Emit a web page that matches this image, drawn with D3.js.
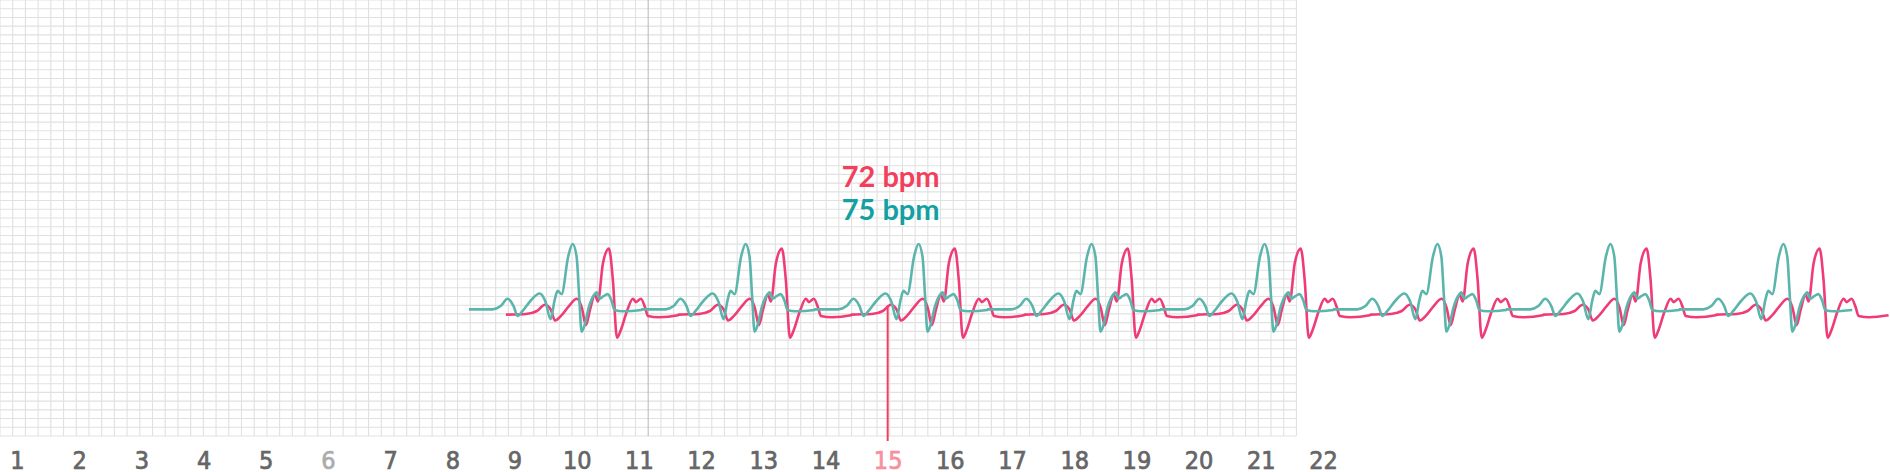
<!DOCTYPE html>
<html>
<head>
<meta charset="utf-8">
<script src="https://cdn.jsdelivr.net/npm/d3@7"></script>
<style>
  html, body { margin: 0; padding: 0; background: #fff; }
  svg { display: block; }
</style>
</head>
<body>
<svg id="chart" width="1890" height="472"></svg>
<script>
// axis labels (seconds)
var tickLabels = [1,2,3,4,5,6,7,8,9,10,11,12,13,14,15,16,17,18,19,20,21,22];
var mutedTick = 6;
var cursorTick = 15;

// R-peak times of each trace (s)
var tealBeats = [9.934, 12.715, 15.496, 18.277, 21.058, 23.839, 26.620, 29.401];
var redBeats  = [10.518, 13.299, 16.080, 18.861, 21.642, 24.423, 27.204, 29.985];

// one beat of each trace, [offset from R peak (s), value]
var tealBeat = [
  [-1.667, 0.01], [-1.286, 0.01], [-1.158, 0.06], [-1.045, 0.17], [-0.949, 0.06],
  [-0.884, -0.09], [-0.804, -0.015], [-0.675, 0.14], [-0.531, 0.25], [-0.434, 0.12],
  [-0.354, -0.14], [-0.289, 0.15], [-0.241, 0.29], [-0.177, 0.24], [-0.071, 0.81],
  [0, 1.0], [0.064, 0.81], [0.106, 0.20], [0.145, -0.33], [0.193, -0.23],
  [0.257, 0.03], [0.354, 0.24], [0.386, 0.27], [0.434, 0.17], [0.498, 0.21],
  [0.563, 0.24], [0.627, 0.14], [0.675, 0.0], [0.804, -0.02], [1.109, 0.0]
];
var redBeat = [
  [-1.656, -0.07], [-1.334, -0.06], [-1.158, -0.015], [-1.029, 0.08], [-0.932, 0.0],
  [-0.868, -0.16], [-0.756, -0.075], [-0.643, 0.06], [-0.514, 0.17], [-0.434, 0.03],
  [-0.370, -0.23], [-0.305, 0.0], [-0.225, 0.23], [-0.177, 0.13], [-0.096, 0.71],
  [0, 0.93], [0.064, 0.45], [0.129, -0.42], [0.193, -0.30], [0.289, -0.02],
  [0.386, 0.17], [0.434, 0.12], [0.514, 0.17], [0.579, 0.045], [0.627, -0.09],
  [0.804, -0.11], [1.109, -0.08]
];

// heart rate readouts at the cursor
var readouts = [
  { text: "72 bpm", color: "#f2405c" },
  { text: "75 bpm", color: "#12a0a2" }
];
var cursorLevel = 0.05;

var svg = d3.select("#chart");

var x = d3.scaleLinear().domain([1, 22]).range([17, 1323]);
var y = d3.scaleLinear().domain([0, 1]).range([310, 244]);

// paper grid
var gridW = 1296.4, gridH = 436, cols = 102, rows = 50;
var gx = d3.scaleLinear().domain([0, cols]).range([0, gridW]);
var gy = d3.scaleLinear().domain([0, rows]).range([0, gridH]);

var grid = svg.append("g").attr("class", "grid");
grid.selectAll("line.h")
  .data(d3.range(rows + 1))
  .enter().append("line")
  .attr("class", "h")
  .attr("x1", 0).attr("x2", gridW)
  .attr("y1", function(d) { return gy(d); })
  .attr("y2", function(d) { return gy(d); })
  .attr("stroke", "#e1e1e1")
  .attr("stroke-width", 1.1);

grid.selectAll("line.v")
  .data(d3.range(cols + 1))
  .enter().append("line")
  .attr("class", "v")
  .attr("y1", 0).attr("y2", gridH)
  .attr("x1", function(d) { return gx(d); })
  .attr("x2", function(d) { return gx(d); })
  .attr("stroke", function(d) { return d === cols / 2 ? "#bcbcbc" : "#e1e1e1"; })
  .attr("stroke-width", 1.1);

// cursor line
svg.append("line")
  .attr("x1", x(cursorTick)).attr("x2", x(cursorTick))
  .attr("y1", y(cursorLevel)).attr("y2", 441)
  .attr("stroke", "#f2405c")
  .attr("stroke-width", 2);

// build trace points from beats
var buildTrace = function(beats, shape) {
  var pts = [];
  beats.forEach(function(t) {
    shape.forEach(function(p) { pts.push([t + p[0], p[1]]); });
  });
  return pts;
};

var line = d3.line()
  .x(function(d) { return x(d[0]); })
  .y(function(d) { return y(d[1]); })
  .curve(d3.curveMonotoneX);

svg.append("path")
  .datum(buildTrace(redBeats, redBeat))
  .attr("d", line)
  .attr("fill", "none")
  .attr("stroke", "#f03c76")
  .attr("stroke-width", 2.6)
  .attr("stroke-linejoin", "round");

svg.append("path")
  .datum(buildTrace(tealBeats, tealBeat))
  .attr("d", line)
  .attr("fill", "none")
  .attr("stroke", "#5bb5ac")
  .attr("stroke-width", 2.6)
  .attr("stroke-linejoin", "round");

// readout text
svg.selectAll("text.bpm")
  .data(readouts)
  .enter().append("text")
  .attr("class", "bpm")
  .attr("x", x(cursorTick) + 3)
  .attr("y", function(d, i) { return 187 + i * 33; })
  .attr("text-anchor", "middle")
  .attr("font-family", "Lato, 'Open Sans', sans-serif")
  .attr("font-weight", "bold")
  .attr("font-size", 29)
  .attr("fill", function(d) { return d.color; })
  .text(function(d) { return d.text; });

// bottom axis labels
var axis = d3.axisBottom(x).tickValues(tickLabels).tickSize(0).tickFormat(d3.format("d"));
var ag = svg.append("g").attr("transform", "translate(0,469)").call(axis);
ag.select(".domain").remove();
ag.selectAll("text")
  .attr("y", 0)
  .attr("dy", null)
  .attr("font-family", "'Liberation Sans Narrow', 'DejaVu Sans Condensed', sans-serif")
  .attr("font-size", 25)
  .attr("fill", function(d) {
    if (d === cursorTick) return "#f7909e";
    if (d === mutedTick) return "#acacac";
    return "#666666";
  })
  .attr("stroke", function(d) {
    if (d === cursorTick) return "#f7909e";
    if (d === mutedTick) return "#acacac";
    return "#666666";
  })
  .attr("stroke-width", 0.7);
</script>
</body>
</html>
